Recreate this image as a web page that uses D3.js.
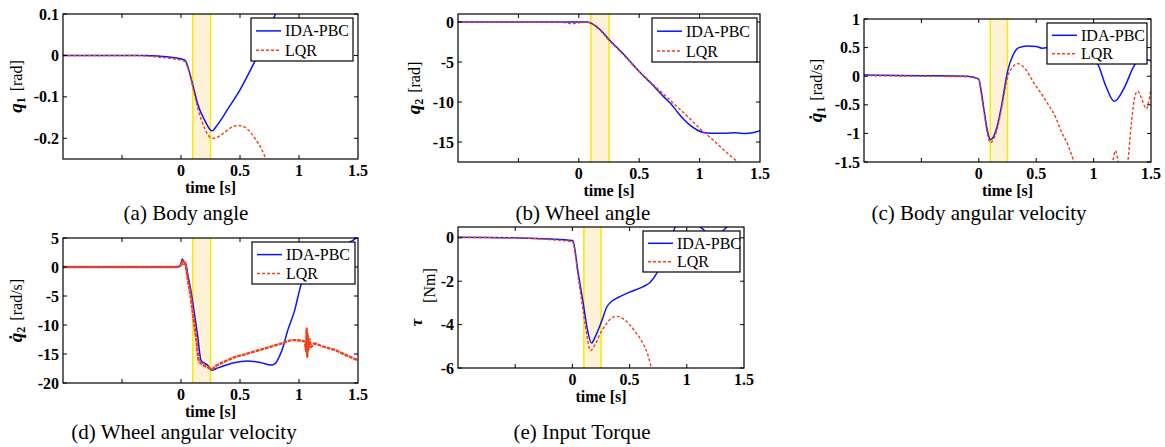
<!DOCTYPE html>
<html>
<head>
<meta charset="utf-8">
<script src="https://cdn.jsdelivr.net/npm/d3@7"></script>
<style>
  body { margin: 0; background: #fff; }
  svg { display: block; }
  text { font-family: "Liberation Serif", "Times New Roman", serif; }
</style>
</head>
<body>
<script>
// shared
const seriesNames = ["IDA-PBC", "LQR"];
const timeTickLabels = [0, 0.5, 1, 1.5];
const timeTickMarks = [-0.5, 0, 0.5, 1];
const bandTimes = [0.1, 0.25];

// (a) body angle [t, q1]
const bodyAngleIda = [[-1,0],[-0.3,0],[-0.1,-0.004],[0.03,-0.011],[0.05,-0.02],[0.07,-0.039],[0.107,-0.079],[0.14,-0.116],[0.2,-0.156],[0.254,-0.181],[0.265,-0.182],[0.3,-0.171],[0.4,-0.128],[0.5,-0.083],[0.6,-0.029],[0.65,0],[0.7,0.03],[0.8,0.1],[0.85,0.14]];
const bodyAngleLqr = [[-1,0],[-0.4,0],[-0.2,-0.004],[0.03,-0.014],[0.05,-0.024],[0.07,-0.042],[0.107,-0.085],[0.14,-0.125],[0.2,-0.176],[0.25,-0.198],[0.28,-0.2],[0.35,-0.19],[0.42,-0.175],[0.49,-0.169],[0.55,-0.175],[0.62,-0.197],[0.68,-0.225],[0.72,-0.25],[0.76,-0.28]];
const bodyAngleTicks = [0.1, 0, -0.1, -0.2];

// (b) wheel angle [t, q2]
const wheelAngleIda = [[-1,0],[0.07,0],[0.12,-0.3],[0.18,-1.0],[0.25,-2.2],[0.35,-3.7],[0.5,-6.2],[0.6,-7.7],[0.7,-9.3],[0.76,-10.2],[0.82,-11.3],[0.87,-12.2],[0.92,-12.9],[0.98,-13.5],[1.03,-13.8],[1.1,-13.9],[1.2,-13.9],[1.3,-13.85],[1.38,-13.95],[1.44,-13.85],[1.5,-13.6]];
const wheelAngleLqr = [[-1,0],[-0.15,0],[-0.1,-0.15],[-0.05,-0.2],[0,-0.1],[0.07,-0.05],[0.12,-0.35],[0.18,-1.1],[0.25,-2.3],[0.35,-3.8],[0.5,-6.2],[0.6,-7.6],[0.7,-9.0],[0.8,-10.4],[0.9,-11.8],[1.0,-13.3],[1.1,-14.6],[1.2,-16.0],[1.3,-17.3],[1.35,-17.9]];
const wheelAngleTicks = [0, -5, -10, -15];

// (c) body angular velocity [t, dq1]
const bodyRateIda = [[-1,0.02],[-0.5,0.01],[-0.1,0],[0,-0.05],[0.02,-0.25],[0.05,-0.65],[0.08,-1.0],[0.1,-1.11],[0.13,-1.05],[0.16,-0.88],[0.2,-0.5],[0.25,0.08],[0.3,0.38],[0.35,0.5],[0.42,0.53],[0.5,0.52],[0.55,0.49],[0.6,0.5],[0.7,0.55],[0.8,0.55],[0.9,0.45],[1.0,0.32],[1.035,0.22],[1.11,-0.19],[1.18,-0.44],[1.27,-0.19],[1.355,0.19],[1.41,0.31],[1.5,0.27]];
const bodyRateLqr = [[-1,0.01],[-0.5,0],[-0.1,-0.01],[0,-0.06],[0.02,-0.3],[0.05,-0.7],[0.08,-1.05],[0.1,-1.16],[0.13,-1.1],[0.16,-0.92],[0.2,-0.55],[0.25,-0.02],[0.3,0.17],[0.34,0.22],[0.4,0.14],[0.48,-0.12],[0.55,-0.32],[0.6,-0.48],[0.67,-0.72],[0.715,-0.95],[0.78,-1.22],[0.83,-1.5],[0.88,-1.8],[0.95,-2.0],[1.05,-1.9],[1.12,-1.7],[1.165,-1.5],[1.19,-1.3],[1.215,-1.5],[1.25,-1.8],[1.297,-1.5],[1.33,-0.8],[1.36,-0.35],[1.384,-0.26],[1.41,-0.35],[1.46,-0.57],[1.48,-0.45],[1.5,-0.22]];
const bodyRateTicks = [1, 0.5, 0, -0.5, -1, -1.5];

// (d) wheel angular velocity [t, dq2]
const wheelRateIda = [[-1,0],[-0.05,0],[-0.01,0.1],[0,0.6],[0.01,1.4],[0.025,0.8],[0.04,0.5],[0.06,-1.5],[0.085,-4.2],[0.11,-7.5],[0.14,-11.7],[0.17,-16.1],[0.2,-16.6],[0.225,-16.9],[0.26,-17.8],[0.3,-17.5],[0.34,-17.2],[0.45,-16.5],[0.56,-16.2],[0.68,-16.5],[0.76,-16.9],[0.8,-16.6],[0.83,-15.6],[0.87,-13.5],[0.9,-11.2],[0.96,-7.7],[1.01,-3.6],[1.06,-0.2],[1.15,2],[1.3,3.5],[1.45,4.5],[1.5,5.2]];
const wheelRateLqr = [[-1,0],[-0.05,0],[0,0.3],[0.01,1.0],[0.02,0.5],[0.03,1.0],[0.04,0.2],[0.06,-2.5],[0.08,-4.8],[0.1,-8],[0.13,-12.5],[0.15,-16],[0.18,-16.8],[0.22,-17.2],[0.26,-17.6],[0.3,-17.0],[0.35,-16.5],[0.45,-15.6],[0.55,-15.0],[0.65,-14.4],[0.75,-13.8],[0.85,-13.2],[0.95,-12.6],[1.02,-12.7],[1.05,-12.9],[1.06,-14.5],[1.065,-10.6],[1.07,-15.5],[1.075,-11.5],[1.08,-14.3],[1.09,-12.5],[1.1,-13.8],[1.13,-13.2],[1.2,-13.7],[1.3,-14.3],[1.4,-15.2],[1.5,-16.1]];
const wheelRateTicks = [5, 0, -5, -10, -15, -20];

// (e) input torque [t, tau]
const torqueIda = [[-1,0.03],[-0.5,0],[-0.2,-0.05],[0,-0.12],[0.006,-0.15],[0.05,-1.6],[0.094,-3.0],[0.13,-4.2],[0.167,-4.85],[0.2,-4.55],[0.255,-3.85],[0.3,-3.2],[0.35,-2.9],[0.4,-2.75],[0.5,-2.5],[0.62,-2.25],[0.68,-2.05],[0.73,-1.7],[0.77,-1.25],[0.82,-0.6],[0.86,0],[0.9,0.5],[0.95,0.8],[1.0,0.9],[1.06,0.75],[1.13,0.45],[1.2,0.15],[1.25,0.1],[1.3,0.25],[1.36,0.55],[1.42,0.8],[1.5,0.9]];
const torqueLqr = [[-1,0.02],[-0.5,0],[-0.2,-0.08],[0,-0.18],[0.006,-0.22],[0.05,-1.8],[0.1,-3.6],[0.13,-4.6],[0.158,-5.2],[0.19,-5.0],[0.255,-4.3],[0.3,-3.95],[0.34,-3.7],[0.39,-3.62],[0.45,-3.75],[0.5,-4.0],[0.56,-4.4],[0.62,-4.9],[0.66,-5.4],[0.69,-6],[0.72,-6.5]];
const torqueTicks = [0, -2, -4, -6];

const width = 1165;
const height = 447;

const panels = [
  {id: "a", box: [63, 358, 14, 159], y: [-0.25, 0.1], ticks: bodyAngleTicks, ida: bodyAngleIda, lqr: bodyAngleLqr,
   leg: [251, 18, 102, 43], sym: "q", sub: "1", dot: false, unit: "[rad]", labX: 22, caption: "(a) Body angle", capX: 186, capY: 220},
  {id: "b", box: [458, 760, 14, 162], y: [-17.5, 1], ticks: wheelAngleTicks, ida: wheelAngleIda, lqr: wheelAngleLqr,
   leg: [652, 18, 105, 44], sym: "q", sub: "2", dot: false, unit: "[rad]", labX: 420, caption: "(b) Wheel angle", capX: 583, capY: 220},
  {id: "c", box: [864, 1151, 19, 162], y: [-1.5, 1], ticks: bodyRateTicks, ida: bodyRateIda, lqr: bodyRateLqr,
   leg: [1047, 23, 100, 41], sym: "q", sub: "1", dot: true, unit: "[rad/s]", labX: 822, caption: "(c) Body angular velocity", capX: 979, capY: 220},
  {id: "d", box: [63, 358, 238, 383], y: [-20, 5], ticks: wheelRateTicks, ida: wheelRateIda, lqr: wheelRateLqr,
   leg: [252, 242, 103, 42], sym: "q", sub: "2", dot: true, unit: "[rad/s]", labX: 22, caption: "(d) Wheel angular velocity", capX: 184, capY: 439, lqrWidth: 2.4},
  {id: "e", box: [458, 744, 227, 368], y: [-6, 0.5], ticks: torqueTicks, ida: torqueIda, lqr: torqueLqr,
   leg: [643, 231, 97, 41], sym: "τ", sub: "", dot: false, unit: "[Nm]", labX: 426, caption: "(e) Input Torque", capX: 582, capY: 439}
];

const svg = d3.select("body").append("svg")
  .attr("width", width)
  .attr("height", height);

const blue = "#0a14ff";
const red = "#f0401a";

panels.forEach(p => {
  const [x0, x1, y0, y1] = p.box;
  const x = d3.scaleLinear().domain([-1, 1.5]).range([x0, x1]);
  const y = d3.scaleLinear().domain(p.y).range([y1, y0]);
  const g = svg.append("g");

  g.append("clipPath").attr("id", "clip-" + p.id)
    .append("rect").attr("x", x0).attr("y", y0).attr("width", x1 - x0).attr("height", y1 - y0);

  // highlighted interval
  g.append("rect")
    .attr("x", x(bandTimes[0])).attr("y", y0)
    .attr("width", x(bandTimes[1]) - x(bandTimes[0])).attr("height", y1 - y0)
    .attr("fill", "#fdf2d6");
  g.selectAll(".band-line").data(bandTimes).join("line")
    .attr("x1", d => x(d)).attr("x2", d => x(d))
    .attr("y1", y0).attr("y2", y1)
    .attr("stroke", "#f8ea00").attr("stroke-width", 1.5);

  const line = d3.line().x(d => x(d[0])).y(d => y(d[1])).curve(d3.curveMonotoneX);
  const plot = g.append("g").attr("clip-path", `url(#clip-${p.id})`);
  plot.append("path").datum(p.ida)
    .attr("d", line).attr("fill", "none")
    .attr("stroke", blue).attr("stroke-width", 1.5);
  plot.append("path").datum(p.lqr)
    .attr("d", line).attr("fill", "none")
    .attr("stroke", red).attr("stroke-width", p.lqrWidth || 1.4)
    .attr("stroke-dasharray", p.lqrWidth ? "4,0.8" : "3,2");

  // box
  g.append("rect").attr("x", x0).attr("y", y0).attr("width", x1 - x0).attr("height", y1 - y0)
    .attr("fill", "none").attr("stroke", "#000").attr("stroke-width", 1.2);

  // inward ticks on all four sides
  const tl = 4;
  g.selectAll(".xt").data(timeTickMarks).join("path")
    .attr("d", d => `M${x(d)},${y1}v${-tl}M${x(d)},${y0}v${tl}`)
    .attr("stroke", "#000").attr("stroke-width", 1);
  g.selectAll(".yt").data(p.ticks).join("path")
    .attr("d", d => `M${x0},${y(d)}h${tl}M${x1},${y(d)}h${-tl}`)
    .attr("stroke", "#000").attr("stroke-width", 1);

  g.selectAll(".xl").data(timeTickLabels).join("text")
    .attr("x", d => x(d)).attr("y", y1 + 17)
    .attr("text-anchor", "middle")
    .attr("font-size", 16).attr("font-weight", "bold")
    .text(d => String(d));
  g.selectAll(".yl").data(p.ticks).join("text")
    .attr("x", x0 - 4).attr("y", d => y(d) + 5.5)
    .attr("text-anchor", "end")
    .attr("font-size", 16).attr("font-weight", "bold")
    .text(d => String(d));

  g.append("text")
    .attr("x", (x0 + x1) / 2).attr("y", y1 + 34)
    .attr("text-anchor", "middle")
    .attr("font-size", 16).attr("font-weight", "bold")
    .text("time [s]");

  // y label
  const cy = (y0 + y1) / 2;
  if (p.id === "e") {
    g.append("text")
      .attr("transform", `translate(${p.labX - 4},${y(-3.9)}) rotate(-90)`)
      .attr("text-anchor", "middle")
      .attr("font-size", 17).attr("font-weight", "bold").attr("font-style", "italic")
      .text(p.sym);
    g.append("text")
      .attr("transform", `translate(${p.labX + 9},${y(-2.2)}) rotate(-90)`)
      .attr("text-anchor", "middle")
      .attr("font-size", 16)
      .text(p.unit);
  } else {
    const lab = g.append("text")
      .attr("transform", `translate(${p.labX},${cy}) rotate(-90)`)
      .attr("text-anchor", "middle");
    lab.append("tspan")
      .attr("font-size", 19).attr("font-weight", "bold").attr("font-style", "italic")
      .text(p.dot ? p.sym + "\u0307" : p.sym);
    lab.append("tspan")
      .attr("font-size", 12).attr("font-weight", "bold").attr("dy", 3)
      .text(p.sub);
    lab.append("tspan")
      .attr("font-size", 16).attr("dy", -3).attr("dx", 6)
      .text(p.unit);
  }

  // legend
  const [lx, ly, lw, lh] = p.leg;
  const lg = g.append("g");
  lg.append("rect").attr("x", lx).attr("y", ly).attr("width", lw).attr("height", lh)
    .attr("fill", "#fff").attr("stroke", "#000").attr("stroke-width", 1.2);
  seriesNames.forEach((name, i) => {
    const ry = ly + (i === 0 ? 0.3 : 0.75) * lh;
    lg.append("line")
      .attr("x1", lx + 5).attr("x2", lx + 30).attr("y1", ry).attr("y2", ry)
      .attr("stroke", i === 0 ? blue : red).attr("stroke-width", 1.5)
      .attr("stroke-dasharray", i === 0 ? null : "3,2");
    lg.append("text")
      .attr("x", lx + 34).attr("y", ry + 5.5)
      .attr("font-size", 16)
      .text(name);
  });

  svg.append("text")
    .attr("x", p.capX).attr("y", p.capY)
    .attr("text-anchor", "middle")
    .attr("font-size", 21)
    .text(p.caption);
});
</script>
</body>
</html>
